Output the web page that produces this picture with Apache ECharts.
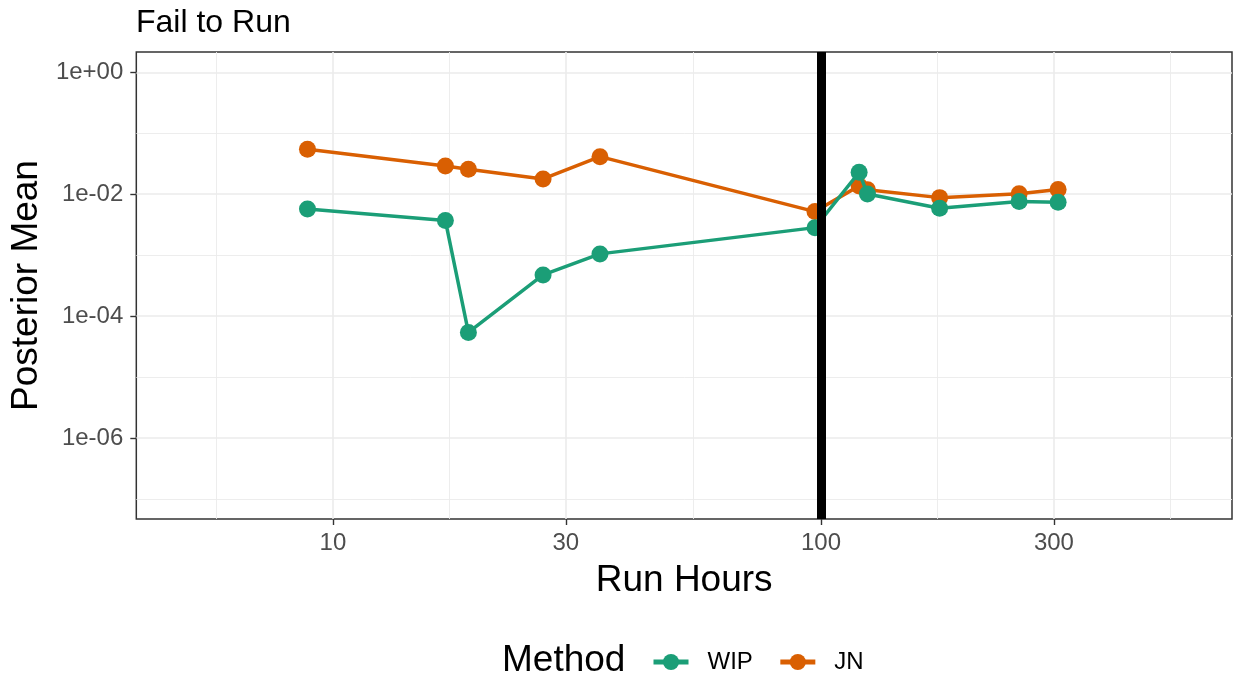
<!DOCTYPE html>
<html><head><meta charset="utf-8">
<script src="https://cdn.jsdelivr.net/npm/echarts@6/dist/echarts.min.js"></script>
<style>html,body{margin:0;padding:0;background:#fff}#c{width:1236px;height:681px}</style>
</head><body><div id="c"></div>
<script>
// ---- data ----
const runHours = [8.87, 17.0, 18.95, 26.95, 35.25, 97.2, 119.7, 124.5, 175, 254.6, 306];
const wipMean  = [0.00574, 0.00369, 0.000054, 0.000475, 0.00105, 0.00283, 0.0229, 0.0101, 0.00589, 0.00757, 0.0074];
const jnMean   = [0.0547, 0.0291, 0.0257, 0.0178, 0.0413, 0.00519, 0.0137, 0.0118, 0.00879, 0.0102, 0.012];
const seriesNames = ['WIP', 'JN'];
const xTicks = [10, 30, 100, 300];
const xMinorGrid = [5.774, 17.32, 54.77, 173.2, 519.6];
const yTicks = [1, 1e-2, 1e-4, 1e-6];
const yTickLabels = ['1e+00', '1e-02', '1e-04', '1e-06'];
const yMinorGrid = [1e-1, 1e-3, 1e-5, 1e-7];
const refHours = 100;
const xRange = [3.956, 695];
const yRange = [4.70e-8, 2.153];

const FONT = 'Liberation Sans, Arial, sans-serif';
const chart = echarts.init(document.getElementById('c'), null, {renderer: 'canvas'});

function yLabel(v) {
  let best = 0, d = Infinity;
  yTicks.forEach((t, i) => { const dd = Math.abs(Math.log10(t) - Math.log10(v)); if (dd < d) { d = dd; best = i; } });
  return yTickLabels[best];
}

const gridLine = {show: true, lineStyle: {color: '#EBEBEB', width: 1.6}};
const minorLine = {show: true, lineStyle: {color: '#EBEBEB', width: 0.9}};

const option = {
  animation: false,
  backgroundColor: '#fff',
  title: [
    {text: 'Fail to Run', left: 136, top: 7, padding: 0,
     textStyle: {fontFamily: FONT, fontSize: 32, fontWeight: 'normal', color: '#000'}},
    {text: 'Method', left: 502, top: 642, padding: 0,
     textStyle: {fontFamily: FONT, fontSize: 37, fontWeight: 'normal', color: '#000'}}
  ],
  legend: {
    data: seriesNames, left: 651, top: 650, padding: 0,
    itemWidth: 35, itemHeight: 20, itemGap: 25,
    lineStyle: {width: 5},
    textStyle: {fontFamily: FONT, fontSize: 24, color: '#000', padding: [0, 0, 0, 14]}
  },
  grid: {left: 136, right: 4, top: 52, bottom: 162, show: true, borderColor: '#333333', borderWidth: 1.5, backgroundColor: 'transparent', containLabel: false},
  xAxis: [
    {type: 'log', min: xRange[0], max: xRange[1], position: 'bottom',
     name: 'Run Hours', nameLocation: 'middle', nameGap: 43,
     nameTextStyle: {fontFamily: FONT, fontSize: 37, color: '#000'},
     axisLine: {show: false},
     axisTick: {show: true, length: 6, customValues: xTicks, lineStyle: {color: '#333333', width: 1.4}},
     axisLabel: {show: true, customValues: xTicks, margin: 12, fontFamily: FONT, fontSize: 24, color: '#4D4D4D', formatter: v => String(Math.round(v))},
     splitLine: gridLine, minorTick: {show: false}, minorSplitLine: {show: false}},
    {type: 'log', min: xRange[0], max: xRange[1], position: 'bottom',
     axisLine: {show: false},
     axisTick: {show: false, customValues: xMinorGrid},
     axisLabel: {show: false, customValues: xMinorGrid},
     splitLine: minorLine}
  ],
  yAxis: [
    {type: 'log', min: yRange[0], max: yRange[1], position: 'left',
     name: 'Posterior Mean', nameLocation: 'middle', nameGap: 84,
     nameTextStyle: {fontFamily: FONT, fontSize: 37, color: '#000'},
     axisLine: {show: false},
     axisTick: {show: true, length: 6, customValues: yTicks, lineStyle: {color: '#333333', width: 1.4}},
     axisLabel: {show: true, customValues: yTicks, margin: 13, fontFamily: FONT, fontSize: 24, color: '#4D4D4D', formatter: yLabel},
     splitLine: gridLine},
    {type: 'log', min: yRange[0], max: yRange[1], position: 'left',
     axisLine: {show: false},
     axisTick: {show: false, customValues: yMinorGrid},
     axisLabel: {show: false, customValues: yMinorGrid},
     splitLine: minorLine}
  ],
  series: [
    {name: 'JN', type: 'line', xAxisIndex: 0, yAxisIndex: 0, z: 3,
     data: runHours.map((h, i) => [h, jnMean[i]]),
     color: '#D95F02', lineStyle: {width: 3.5, color: '#D95F02'},
     symbol: 'circle', symbolSize: 17, itemStyle: {color: '#D95F02'}},
    {name: 'WIP', type: 'line', xAxisIndex: 0, yAxisIndex: 0, z: 4,
     data: runHours.map((h, i) => [h, wipMean[i]]),
     color: '#1B9E77', lineStyle: {width: 3.5, color: '#1B9E77'},
     symbol: 'circle', symbolSize: 17, itemStyle: {color: '#1B9E77'}},
    {name: 'ref', type: 'line', xAxisIndex: 0, yAxisIndex: 0, z: 10, data: [],
     markLine: {silent: true, symbol: ['none', 'none'], animation: false,
       label: {show: false}, lineStyle: {color: '#000', width: 9, type: 'solid'},
       data: [{xAxis: refHours}]}}
  ]
};
chart.setOption(option);
</script></body></html>
